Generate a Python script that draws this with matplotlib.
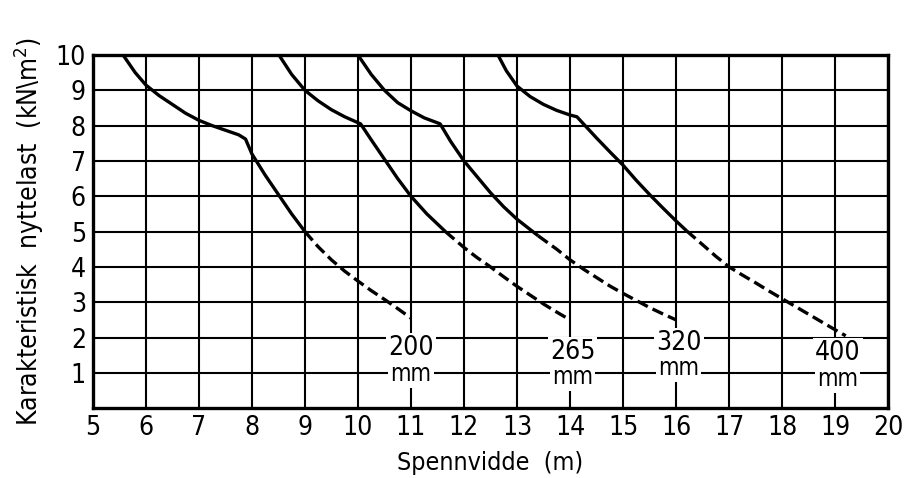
import matplotlib.pyplot as plt

plt.rcParams["font.family"] = ["DejaVu Sans"]
plt.rcParams["font.stretch"] = "condensed"

# Data (span in m, load in kN/m2)
# each slab: solid part + dashed part (shared join point)
x200_solid = [5.57, 5.8, 6.0, 6.25, 6.5, 6.75, 7.0, 7.25, 7.5, 7.75, 7.88, 8.0, 8.25, 8.5, 8.75, 9.0]
y200_solid = [10.0, 9.5, 9.15, 8.85, 8.6, 8.35, 8.15, 8.0, 7.87, 7.74, 7.62, 7.2, 6.6, 6.05, 5.5, 5.0]
x200_dash = [9.0, 9.25, 9.5, 9.75, 10.0, 10.25, 10.5, 10.75, 11.0]
y200_dash = [5.0, 4.57, 4.2, 3.88, 3.6, 3.33, 3.08, 2.82, 2.55]

x265_solid = [8.51, 8.75, 9.0, 9.25, 9.5, 9.75, 10.05, 10.25, 10.5, 10.75, 11.0, 11.3, 11.65]
y265_solid = [10.0, 9.45, 9.0, 8.7, 8.45, 8.25, 8.05, 7.6, 7.05, 6.5, 6.0, 5.5, 5.0]
x265_dash = [11.65, 12.0, 12.25, 12.5, 12.75, 13.0, 13.25, 13.5, 13.75, 14.0]
y265_dash = [5.0, 4.55, 4.26, 4.0, 3.72, 3.45, 3.2, 2.95, 2.72, 2.5]

x320_solid = [10.0, 10.25, 10.5, 10.75, 11.0, 11.25, 11.55, 11.75, 12.0, 12.25, 12.5, 12.75, 13.0, 13.4]
y320_solid = [10.0, 9.45, 9.0, 8.65, 8.42, 8.22, 8.05, 7.55, 7.0, 6.55, 6.1, 5.7, 5.35, 4.88]
x320_dash = [13.4, 13.75, 14.0, 14.25, 14.5, 14.75, 15.0, 15.25, 15.5, 15.75, 16.0]
y320_dash = [4.88, 4.5, 4.2, 3.94, 3.7, 3.46, 3.25, 3.05, 2.85, 2.67, 2.5]

x400_solid = [12.64, 12.8, 13.0, 13.25, 13.5, 13.75, 14.0, 14.13, 14.5, 14.75, 15.0, 15.25, 15.5, 15.75, 16.0, 16.2]
y400_solid = [10.0, 9.55, 9.12, 8.82, 8.6, 8.43, 8.3, 8.25, 7.65, 7.26, 6.88, 6.45, 6.05, 5.67, 5.3, 5.02]
x400_dash = [16.2, 16.5, 16.75, 17.0, 17.25, 17.5, 17.75, 18.0, 18.25, 18.5, 18.75, 19.0, 19.2]
y400_dash = [5.02, 4.63, 4.3, 4.0, 3.77, 3.55, 3.32, 3.1, 2.88, 2.66, 2.44, 2.22, 2.05]

labels = ["200", "265", "320", "400"]
label_x = [11.0, 14.05, 16.05, 19.05]
label_y = [1.7, 1.6, 1.85, 1.55]

x_ticks = list(range(5, 21))
y_ticks = list(range(1, 11))

fig = plt.figure(figsize=(9.1, 4.78), dpi=100)
ax = fig.add_axes([0.102, 0.146, 0.874, 0.739])

ax.set_xlim(5, 20)
ax.set_ylim(0, 10)

# grid
for xv in x_ticks:
    ax.axvline(xv, color="black", lw=1.5, zorder=1)
for yv in y_ticks:
    ax.axhline(yv, color="black", lw=1.5, zorder=1)

series = [
    (x200_solid, y200_solid, x200_dash, y200_dash),
    (x265_solid, y265_solid, x265_dash, y265_dash),
    (x320_solid, y320_solid, x320_dash, y320_dash),
    (x400_solid, y400_solid, x400_dash, y400_dash),
]
for xs, ys, xd, yd in series:
    ax.plot(xs, ys, color="black", lw=2.4, solid_capstyle="butt", solid_joinstyle="round", zorder=3)
    ax.plot(xd, yd, color="black", lw=2.4, dashes=(3.5, 1.6), zorder=3)

box = dict(facecolor="white", edgecolor="none", pad=1.5)
for lab, lx, ly in zip(labels, label_x, label_y):
    ax.text(lx, ly, lab, ha="center", va="center", fontsize=19, bbox=box, zorder=4)
    ax.text(lx, ly - 0.72, "mm", ha="center", va="center", fontsize=17, bbox=box, zorder=4)

ax.set_xticks(x_ticks)
ax.set_yticks(y_ticks)
ax.tick_params(length=0, labelsize=19, pad=5)
for sp in ax.spines.values():
    sp.set_linewidth(2.4)

ax.set_xlabel("Spennvidde  (m)", fontsize=18, labelpad=7)
ax.set_ylabel("Karakteristisk  nyttelast  (kN\\m$^2$)", fontsize=19, labelpad=7)

fig.savefig("out.png", dpi=100)
